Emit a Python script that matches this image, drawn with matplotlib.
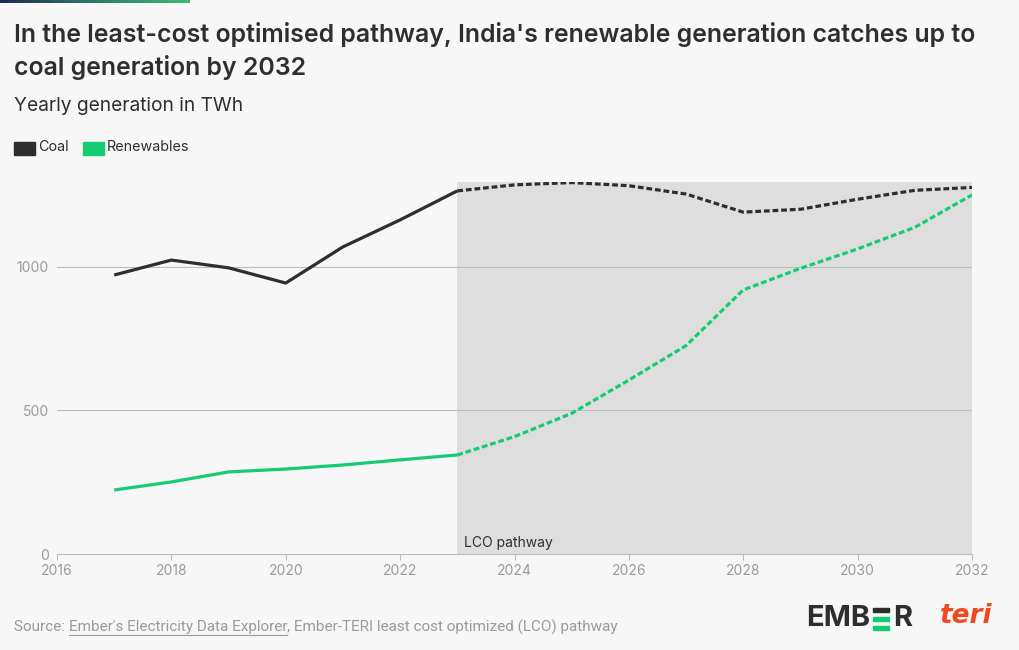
import numpy as np
import matplotlib
matplotlib.use("Agg")
import matplotlib.pyplot as plt
from matplotlib.patches import Rectangle
from matplotlib.lines import Line2D

# yearly generation, TWh
years = [2017, 2018, 2019, 2020, 2021, 2022, 2023, 2024, 2025,
         2026, 2027, 2028, 2029, 2030, 2031, 2032]
coal = [972, 1024, 997, 944, 1070, 1164, 1265, 1286, 1294,
        1283, 1254, 1191, 1201, 1236, 1267, 1277]
renewables = [223, 251, 286, 296, 310, 328, 345, 409, 490,
              606, 726, 920, 995, 1063, 1138, 1251]
lco_start = 2023  # first year of the modelled pathway
x_ticks = [2016, 2018, 2020, 2022, 2024, 2026, 2028, 2030, 2032]
y_ticks = [0, 500, 1000]

BG = '#f7f7f7'
DARK = '#2e2e2e'
GREEN = '#14cc72'
GREY = '#9a9a9a'
FONT = ['Inter', 'DejaVu Sans']

plt.rcParams['font.family'] = FONT

fig = plt.figure(figsize=(10.2, 6.5), dpi=100, facecolor=BG)
ax = fig.add_axes([57 / 1020, 96 / 650, 915 / 1020, 372 / 650], facecolor=BG)

# top gradient strip
grad = fig.add_axes([0, 1 - 3 / 650, 190 / 1020, 3 / 650])
grad.imshow(np.linspace(0, 1, 256)[None, :], aspect='auto',
            cmap=matplotlib.colors.LinearSegmentedColormap.from_list('g', ['#1c2b4f', '#2f7a6a', '#3dbb73']))
grad.axis('off')

years = np.array(years)
coal = np.array(coal)
renewables = np.array(renewables)
hist = years <= lco_start
proj = years >= lco_start

ax.axvspan(lco_start, years[-1], color='#dedede', zorder=0, lw=0)
for v in y_ticks[1:]:
    ax.axhline(v, color='#bcbcbc', lw=0.8, zorder=1)

for vals, col in [(coal, DARK), (renewables, GREEN)]:
    ax.plot(years[hist], vals[hist], color=col, lw=2.3, zorder=3, solid_capstyle='butt')
    ax.plot(years[proj], vals[proj], color=col, lw=2.3, zorder=3, dashes=(1.8, 0.9))

ax.text(lco_start + 0.12, 14, 'LCO pathway', fontsize=10, color=DARK, va='bottom', ha='left')

ax.set_xlim(2016, 2032)
ax.set_ylim(0, 1296)
ax.set_xticks(x_ticks)
ax.set_yticks(y_ticks)
ax.tick_params(axis='x', colors='#bcbcbc', labelcolor=GREY, labelsize=10, length=4, width=0.8, pad=3)
ax.tick_params(axis='y', length=0, labelcolor=GREY, labelsize=10, pad=6)
for s in ['top', 'right', 'left']:
    ax.spines[s].set_visible(False)
ax.spines['bottom'].set_color('#bcbcbc')
ax.spines['bottom'].set_linewidth(0.8)

# titles
fig.text(14 / 1020, 1 - 22 / 650,
         "In the least-cost optimised pathway, India's renewable generation catches up to\ncoal generation by 2032",
         fontsize=17.9, fontweight='semibold', color=DARK, va='top', ha='left', linespacing=1.38)
fig.text(14 / 1020, 1 - 97 / 650, 'Yearly generation in TWh', fontsize=13.8, color=DARK, va='top', ha='left')

# legend
for x0, col, lab in [(14, DARK, 'Coal'), (83, GREEN, 'Renewables')]:
    fig.patches.append(Rectangle((x0 / 1020, 1 - 155 / 650), 21 / 1020, 13 / 650,
                                 transform=fig.transFigure, color=col))
    fig.text((x0 + 24) / 1020, 1 - 147 / 650, lab, fontsize=10.3, color=DARK, va='center', ha='left')

# footer
fig.canvas.draw()
r = fig.canvas.get_renderer()
fs = 11
ff = ['Roboto', 'DejaVu Sans']
t1 = fig.text(14 / 1020, 1 - 627 / 650, 'Source: ', fontsize=fs, color=GREY, va='center', family=ff)
bb1 = t1.get_window_extent(r)
t2 = fig.text(bb1.x1 / 1020, 1 - 627 / 650, "Ember's Electricity Data Explorer", fontsize=fs, color=GREY,
              va='center', family=ff)
bb2 = t2.get_window_extent(r)
fig.lines.append(Line2D([bb2.x0 / 1020, bb2.x1 / 1020], [(bb2.y0 - 0.5) / 650] * 2,
                        transform=fig.transFigure, color=GREY, lw=0.8))
fig.text(bb2.x1 / 1020, 1 - 627 / 650, ', Ember-TERI least cost optimized (LCO) pathway', fontsize=fs,
         color=GREY, va='center', family=ff)

# logos
fig.text(806 / 1020, 1 - 619 / 650, 'EMB', fontsize=21, fontweight='bold', color=DARK, va='center', ha='left')
tE = fig.texts[-1].get_window_extent(r)
ex = tE.x1 + 3
for i, col in enumerate([DARK, GREEN, GREEN]):
    fig.patches.append(Rectangle((ex / 1020, (650 - 608 - i * 9 - 4) / 650), 16 / 1020, 4 / 650,
                                 transform=fig.transFigure, color=col))
fig.text((ex + 20) / 1020, 1 - 619 / 650, 'R', fontsize=21, fontweight='bold', color=DARK, va='center', ha='left')
fig.text(940 / 1020, 1 - 616 / 650, 'teri', fontsize=19, fontweight='bold', style='italic',
         color='#f0481f', va='center', ha='left', family=['DejaVu Sans'])

fig.savefig('out.png', dpi=100, facecolor=BG)
